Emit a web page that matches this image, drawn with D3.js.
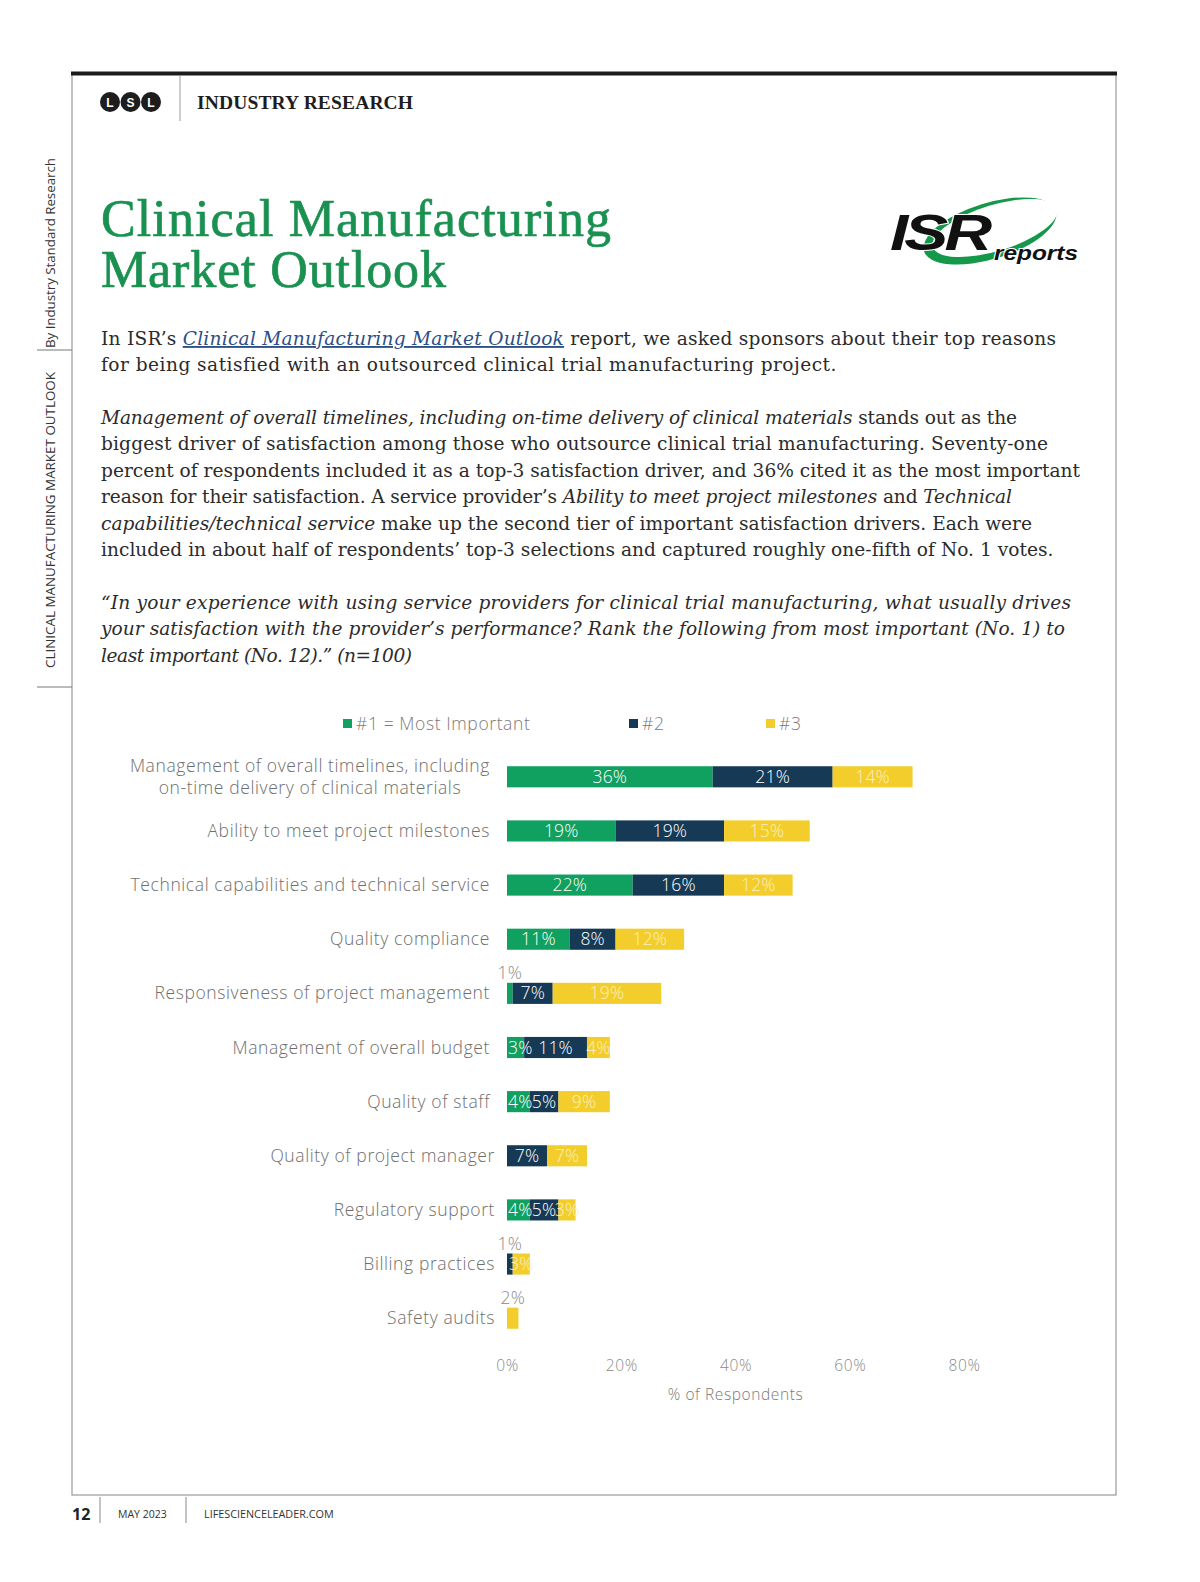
<!DOCTYPE html>
<html>
<head>
<meta charset="utf-8">
<script src="https://cdn.jsdelivr.net/npm/d3@7"></script>
<style>
  html, body { margin: 0; padding: 0; background: #fff; overflow: hidden; width: 1200px; height: 1582px; }
  svg { display: block; }
  .sans { font-family: "Open Sans", Lato, sans-serif; font-weight: 300; letter-spacing: 0.6px; }
</style>
</head>
<body>
<div id="page"></div>
<script>
// --- chart data ---
const categorias = [
  ["Management of overall timelines, including", "on-time delivery of clinical materials"],
  ["Ability to meet project milestones"],
  ["Technical capabilities and technical service"],
  ["Quality compliance"],
  ["Responsiveness of project management"],
  ["Management of overall budget"],
  ["Quality of staff"],
  ["Quality of project manager"],
  ["Regulatory support"],
  ["Billing practices"],
  ["Safety audits"]
];
const rango1 = [36, 19, 22, 11, 1, 3, 4, 0, 4, 0, 0];
const rango2 = [21, 19, 16, 8, 7, 11, 5, 7, 5, 1, 0];
const rango3 = [14, 15, 12, 12, 19, 4, 9, 7, 3, 3, 2];
const nombresSeries = ["#1 = Most Important", "#2", "#3"];
const marcasEje = [0, 20, 40, 60, 80];

const colores = ["#10a060", "#163a55", "#f2cd2c"];

const ancho = 1200, alto = 1582;
const svg = d3.select('#page').append('svg')
  .attr('width', ancho).attr('height', alto);

// ajusta el espaciado de letras para que una línea termine donde debe
function ajustarAncho(sel, anchoObjetivo) {
  const nodo = sel.node();
  const natural = nodo.getComputedTextLength();
  const n = nodo.textContent.length;
  if (n > 1) sel.attr('letter-spacing', (anchoObjetivo - natural) / (n - 1));
}

// --- page frame ---
const marco = svg.append('g');
marco.append('rect').attr('x', 72).attr('y', 74).attr('width', 1044).attr('height', 1421)
  .attr('fill', 'none').attr('stroke', '#9a9a9a').attr('stroke-width', 1.2);
marco.append('line').attr('x1', 71).attr('x2', 1117).attr('y1', 73.5).attr('y2', 73.5)
  .attr('stroke', '#1b1b1b').attr('stroke-width', 4);

// header
const lsl = ['L', 'S', 'L'];
lsl.forEach((letra, i) => {
  const cx = 110 + i * 20.5;
  marco.append('circle').attr('cx', cx).attr('cy', 102).attr('r', 10).attr('fill', '#1d1d1d');
  marco.append('text').attr('x', cx).attr('y', 106.5).attr('text-anchor', 'middle')
    .attr('fill', '#fff').style('font-family', 'Liberation Sans, sans-serif')
    .style('font-size', '12px').style('font-weight', 700).text(letra);
});
marco.append('line').attr('x1', 180).attr('x2', 180).attr('y1', 76).attr('y2', 121)
  .attr('stroke', '#9a9a9a').attr('stroke-width', 1);
const cabecera = marco.append('text').attr('x', 197).attr('y', 109)
  .style('font-family', '"Liberation Serif", serif')
  .style('font-size', '19.5px').style('font-weight', 700).attr('fill', '#1d1d1d')
  .text('INDUSTRY RESEARCH');
ajustarAncho(cabecera, 216);

// side strip
const lateral = svg.append('g').attr('transform', 'translate(55,0) rotate(-90)');
const lat1 = lateral.append('text').attr('x', -348).attr('y', 0)
  .style('font-family', '"Open Sans", sans-serif').style('font-size', '13.4px').attr('fill', '#333')
  .text('By Industry Standard Research');
const lat2 = lateral.append('text').attr('x', -668).attr('y', 0)
  .style('font-family', '"Open Sans", sans-serif').style('font-size', '13.4px').attr('fill', '#333')
  .text('CLINICAL MANUFACTURING MARKET OUTLOOK');
ajustarAncho(lat1, 190);
ajustarAncho(lat2, 296);
[350, 687].forEach(y => {
  svg.append('line').attr('x1', 37).attr('x2', 72).attr('y1', y).attr('y2', y)
    .attr('stroke', '#777').attr('stroke-width', 1);
});

// footer
svg.append('text').attr('x', 72).attr('y', 1520)
  .style('font-family', '"Open Sans", sans-serif').style('font-size', '16px').style('font-weight', 700)
  .attr('fill', '#222').text('12');
[100, 186].forEach(x => {
  svg.append('line').attr('x1', x).attr('x2', x).attr('y1', 1497).attr('y2', 1523)
    .attr('stroke', '#888').attr('stroke-width', 1);
});
svg.append('text').attr('x', 118).attr('y', 1518)
  .style('font-family', '"Open Sans", sans-serif').style('font-size', '10.5px').attr('fill', '#333')
  .text('MAY 2023');
svg.append('text').attr('x', 204).attr('y', 1518)
  .style('font-family', '"Open Sans", sans-serif').style('font-size', '10.8px').attr('fill', '#333')
  .text('LIFESCIENCELEADER.COM');

// title (one text, two lines)
const titulo = svg.append('text')
  .style('font-family', '"Liberation Serif", serif').style('font-size', '52px')
  .attr('fill', '#1a9151').attr('stroke', '#1a9151').attr('stroke-width', 0.7);
[[236, 'Clinical Manufacturing', 510], [287, 'Market Outlook', 345]].forEach(([y, txt, w]) => {
  const s = titulo.append('tspan').attr('x', 101).attr('y', y).text(txt);
  const natural = s.node().getComputedTextLength();
  s.attr('letter-spacing', (w - natural) / (txt.length - 1));
});

// ISR logo
const logo = svg.append('g');
logo.append('ellipse').attr('cx', 990).attr('cy', 231).attr('rx', 69).attr('ry', 28)
  .attr('transform', 'rotate(-17 990 231)').attr('fill', '#14984a');
logo.append('ellipse').attr('cx', 995).attr('cy', 228).attr('rx', 65).attr('ry', 23)
  .attr('transform', 'rotate(-17 995 228)').attr('fill', '#fff');
logo.append('text').attr('transform', 'translate(890,250) scale(1.32,1)')
  .style('font-family', '"Liberation Sans", sans-serif').style('font-size', '50px')
  .style('font-weight', 700).style('font-style', 'italic').attr('fill', '#111')
  .attr('stroke', '#fff').attr('stroke-width', 2).attr('paint-order', 'stroke')
  .attr('letter-spacing', '-3').text('ISR');
logo.append('text').attr('transform', 'translate(994,260) scale(1.22,1)')
  .style('font-family', '"Liberation Sans", sans-serif').style('font-size', '20px')
  .style('font-weight', 700).style('font-style', 'italic').attr('fill', '#111')
  .attr('stroke', '#fff').attr('stroke-width', 2).attr('paint-order', 'stroke')
  .text('reports');

// body text: [baseline, right end, parts [text, italic?, link?]]
const lineasCuerpo = [
  [345, 1056, [["In ISR’s ", 0], ["Clinical Manufacturing Market Outlook", 1, 1], [" report, we asked sponsors about their top reasons", 0]]],
  [371, 836, [["for being satisfied with an outsourced clinical trial manufacturing project.", 0]]],
  [424, 1017, [["Management of overall timelines, including on-time delivery of clinical materials", 1], [" stands out as the", 0]]],
  [450, 1048, [["biggest driver of satisfaction among those who outsource clinical trial manufacturing. Seventy-one", 0]]],
  [477, 1080, [["percent of respondents included it as a top-3 satisfaction driver, and 36% cited it as the most important", 0]]],
  [503, 1012, [["reason for their satisfaction. A service provider’s ", 0], ["Ability to meet project milestones", 1], [" and ", 0], ["Technical", 1]]],
  [530, 1032, [["capabilities/technical service", 1], [" make up the second tier of important satisfaction drivers. Each were", 0]]],
  [556, 1053, [["included in about half of respondents’ top-3 selections and captured roughly one-fifth of No. 1 votes.", 0]]],
  [609, 1071, [["“In your experience with using service providers for clinical trial manufacturing, what usually drives", 1]]],
  [635, 1065, [["your satisfaction with the provider’s performance? Rank the following from most important (No. 1) to", 1]]],
  [662, 412, [["least important (No. 12).” (n=100)", 1]]]
];
const textosCuerpo = lineasCuerpo.map(([y, fin, partes]) => {
  const t = svg.append('text').attr('x', 101).attr('y', y)
    .style('font-family', '"DejaVu Serif", serif')
    .style('font-size', '20px').attr('fill', '#2b2b2b');
  partes.forEach(([txt, ital, enlace]) => {
    const s = t.append('tspan').text(txt);
    if (ital) s.style('font-style', 'italic');
    if (enlace) s.attr('fill', '#2c4f86').style('text-decoration', 'underline');
  });
  return [t, fin];
});
// size from the longest line, then letter spacing per line
const anchoRef = textosCuerpo[4][0].node().getComputedTextLength();
const tamCuerpo = 20 * (1080 - 101) / anchoRef;
textosCuerpo.forEach(([t, fin]) => {
  t.style('font-size', tamCuerpo + 'px');
  ajustarAncho(t, fin - 101);
});

// --- chart ---
const x = d3.scaleLinear().domain([0, 80]).range([507, 964]);
const y = d3.scaleBand().domain(d3.range(categorias.length)).range([750, 1345]).paddingInner(0.61).paddingOuter(0.3);

const tabla = categorias.map((c, i) => ({ i, r1: rango1[i], r2: rango2[i], r3: rango3[i] }));
const pila = d3.stack().keys(['r1', 'r2', 'r3'])(tabla);

const grafico = svg.append('g').attr('class', 'sans');

// legend
const posLeyenda = [343, 629, 766];
nombresSeries.forEach((n, k) => {
  grafico.append('rect').attr('x', posLeyenda[k]).attr('y', 719).attr('width', 9).attr('height', 9)
    .attr('fill', colores[k]);
  grafico.append('text').attr('x', posLeyenda[k] + 13).attr('y', 729.5)
    .style('font-size', '17.5px').attr('fill', '#7a7a7a').text(n);
});

// category labels
categorias.forEach((lineas, i) => {
  const derecha = i < 7 ? 490 : 495;
  const cy = y(i) + y.bandwidth() / 2;
  const t = grafico.append('text').style('font-size', '17.5px').attr('fill', '#6e6e6e');
  const alturaLinea = 22;
  lineas.forEach((l, j) => {
    t.append('tspan').attr('y', cy + 6 - (lineas.length - 1) * alturaLinea / 2 + j * alturaLinea).text(l);
  });
  // multi-line labels are centred on their widest line
  const tsp = t.selectAll('tspan').nodes();
  const anchoMax = d3.max(tsp, n => n.getComputedTextLength());
  if (lineas.length > 1) {
    t.attr('text-anchor', 'middle');
    t.selectAll('tspan').attr('x', derecha - anchoMax / 2);
  } else {
    t.attr('text-anchor', 'end');
    t.selectAll('tspan').attr('x', derecha);
  }
});

// bars first, then every value label on top
const capaBarras = grafico.append('g');
const capaValores = grafico.append('g').style('letter-spacing', '0.2px');
pila.forEach((serie, k) => {
  const visibles = serie.filter(d => d[1] > d[0]);
  capaBarras.append('g').selectAll('rect').data(visibles).join('rect')
    .attr('x', d => x(d[0]))
    .attr('y', d => y(d.data.i))
    .attr('width', d => x(d[1]) - x(d[0]))
    .attr('height', y.bandwidth())
    .attr('fill', colores[k]);
  capaValores.append('g').selectAll('text').data(visibles).join('text')
    .attr('x', d => (x(d[0]) + x(d[1])) / 2)
    .attr('y', d => (d[1] - d[0]) <= 2 ? y(d.data.i) - 4 : y(d.data.i) + y.bandwidth() / 2 + 6)
    .attr('text-anchor', 'middle')
    .style('font-size', '17.5px')
    .attr('fill', d => (d[1] - d[0]) <= 2 ? '#8a8a8a' : (k === 2 ? '#fbf0c0' : '#ffffff'))
    .text(d => (d[1] - d[0]) + '%')
    .each(function (d) {
      // keep inside labels from spilling past the start of the bar
      if ((d[1] - d[0]) <= 2) return;
      const w = this.getComputedTextLength();
      const cx = +this.getAttribute('x');
      if (cx - w / 2 < x(0) + 1) d3.select(this).attr('x', x(0) + 1 + w / 2);
    });
});

// x axis
const eje = grafico.append('g').attr('transform', 'translate(0,1362)')
  .call(d3.axisBottom(x).tickValues(marcasEje).tickFormat(d => d + '%').tickSize(0).tickPadding(0));
eje.select('.domain').remove();
eje.selectAll('text').style('font-family', '"Open Sans", Lato, sans-serif').style('font-weight', 300)
  .style('font-size', '15.5px').attr('fill', '#8a8a8a').attr('dy', '0.6em');
grafico.append('text').attr('x', x(40)).attr('y', 1400).attr('text-anchor', 'middle')
  .style('font-size', '15.5px').attr('fill', '#7a7a7a').text('% of Respondents');
</script>
</body>
</html>
